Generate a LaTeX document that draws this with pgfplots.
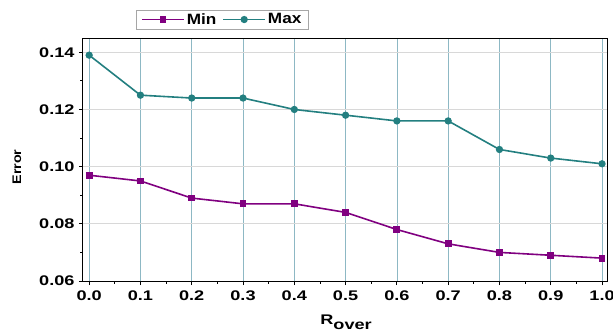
\documentclass[border=0pt]{standalone}
\usepackage{pgfplots}
\pgfplotsset{compat=1.18}
\usepackage{fontspec}
\setmainfont{Liberation Sans}
\setsansfont{Liberation Sans}
\newfontfamily\tickfont[FakeStretch=1.3]{Liberation Sans}
\newfontfamily\legfont[FakeStretch=1.15]{Liberation Sans}
\usetikzlibrary{calc}
\definecolor{cmin}{HTML}{800080}
\definecolor{cmax}{HTML}{237F80}
\definecolor{vgrid}{HTML}{8DB8C4}
\definecolor{hgrid}{HTML}{D8D8D8}
\begin{document}
\begin{tikzpicture}
\begin{axis}[
  scale only axis,
  width=524bp, height=243bp,
  xmin=-0.012, xmax=1.0097,
  ymin=0.06, ymax=0.145,
  xtick={0,0.1,...,1.0},
  xticklabels={0.0,0.1,0.2,0.3,0.4,0.5,0.6,0.7,0.8,0.9,1.0},
  ytick={0.06,0.08,0.10,0.12,0.14},
  yticklabels={0.06,0.08,0.10,0.12,0.14},
  minor x tick num=1,
  minor y tick num=1,
  tick align=outside,
  major tick length=4bp,
  minor tick length=2.5bp,
  tick style={black, line width=0.8bp},
  xtick pos=bottom, ytick pos=left,
  xmajorgrids, ymajorgrids,
  x grid style={vgrid, line width=0.7bp},
  y grid style={hgrid, line width=0.9bp},
  axis line style={black, line width=1bp},
  ticklabel style={font=\fontsize{14}{16}\tickfont\bfseries},
  xticklabel style={yshift=-2.5bp},
  yticklabel style={xshift=-1bp},
  xlabel={R\raisebox{-4.5bp}{over}},
  ylabel={Error},
  xlabel style={font=\fontsize{14}{16}\tickfont\bfseries, at={(axis description cs:0.502,-0.14)}, anchor=north, inner sep=0pt},
  ylabel style={font=\fontsize{12.5}{15}\legfont\bfseries, at={(axis description cs:-0.126,0.469)}, anchor=center, inner sep=0pt},
  legend columns=2,
  legend style={at={(0.101,1.117)}, anchor=north west, draw=gray!70, line width=0.6bp,
    font=\fontsize{15}{17}\legfont\bfseries, inner xsep=5bp, inner ysep=1.5bp,
    /tikz/every even column/.append style={column sep=4bp}},
  legend image code/.code={\draw[#1] (0bp,0bp) -- (42bp,0bp); \draw[#1, only marks] plot coordinates {(21bp,0bp)};},
]
\addplot[cmin, line width=1.6bp, mark=square*, mark size=2.6bp] coordinates {
(0.0,0.097) (0.1,0.095) (0.2,0.089) (0.3,0.087) (0.4,0.087) (0.5,0.084)
(0.6,0.078) (0.7,0.073) (0.8,0.070) (0.9,0.069) (1.0,0.068)};
\addlegendentry{Min}
\addplot[cmax, line width=1.6bp, mark=*, mark size=2.8bp] coordinates {
(0.0,0.139) (0.1,0.125) (0.2,0.124) (0.3,0.124) (0.4,0.120) (0.5,0.118)
(0.6,0.116) (0.7,0.116) (0.8,0.106) (0.9,0.103) (1.0,0.101)};
\addlegendentry{Max}
\coordinate (O) at (rel axis cs:0,0);
\end{axis}
\pgfresetboundingbox
\path ($(O)+(-83bp,-50bp)$) rectangle +(613bp,331bp);
\end{tikzpicture}
\end{document}
